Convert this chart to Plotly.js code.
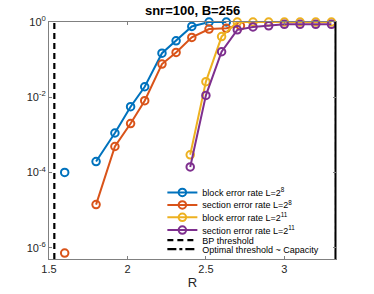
<!DOCTYPE html>
<html>
<head>
<meta charset="utf-8">
<script src="https://cdn.plot.ly/plotly-3.0.1.min.js"></script>
<style>html,body{margin:0;padding:0;background:#fff;}#chart{width:374px;height:294px;}</style>
</head>
<body>
<div id="chart"></div>
<script>
// Data
const R8 = [1.6, 1.8, 1.92, 2.02, 2.11, 2.22, 2.31, 2.41, 2.52, 2.63];
const blockL8 = [1.0e-4, 1.95e-4, 1.12e-3, 5.6e-3, 0.019, 0.148, 0.316, 0.76, 1.0, 1.0];
const R8s = [1.6, 1.8, 1.92, 2.02, 2.11, 2.22, 2.31, 2.41, 2.52, 2.63, 2.72];
const sectionL8 = [7.2e-7, 1.4e-5, 4.9e-4, 2.0e-3, 8.1e-3, 0.076, 0.155, 0.39, 0.65, 0.68, 0.79];
const R11 = [2.4, 2.5, 2.6, 2.7, 2.8, 2.9, 3.0, 3.1, 3.2, 3.3];
const blockL11 = [2.95e-4, 0.026, 0.41, 1.0, 1.0, 1.0, 1.0, 1.0, 1.0, 1.0];
const sectionL11 = [1.4e-4, 0.0112, 0.162, 0.62, 0.74, 0.79, 0.87, 0.87, 0.87, 0.87];
const bpThreshold = 1.534;
const capacity = 0.5 * Math.log2(1 + 100);
const yTickVals = [1e-6, 1e-4, 1e-2, 1];
const yTickText = ['10<sup>-6</sup>', '10<sup>-4</sup>', '10<sup>-2</sup>', '10<sup>0</sup>'];
const xTickVals = [1.5, 2, 2.5, 3];
const xTickText = ['1.5', '2', '2.5', '3'];
const seriesNames = ['block error rate L=2<sup>8</sup>', 'section error rate L=2<sup>8</sup>',
                     'block error rate L=2<sup>11</sup>', 'section error rate L=2<sup>11</sup>',
                     'BP threshold', 'Optimal threshold ~ Capacity'];

const colors = ['#0072BD', '#D95319', '#EDB120', '#7E2F8E'];
const legendIds = ['legend', 'legend2', 'legend3', 'legend4', 'legend5', 'legend6'];
const legendY = [0.281, 0.228, 0.176, 0.122, 0.080, 0.042];

function gapFirst(arr) { return [arr[0], null].concat(arr.slice(1)); }

function series(x, y, i) {
  return {
    x: x, y: y, name: seriesNames[i], legend: legendIds[i], type: 'scatter', mode: 'lines+markers',
    connectgaps: false, cliponaxis: false,
    line: {color: colors[i], width: 2},
    marker: {symbol: 'circle-open', size: 7.5, color: colors[i], line: {width: 2, color: colors[i]}}
  };
}

const traces = [
  series(gapFirst(R8), gapFirst(blockL8), 0),
  series(gapFirst(R8s), gapFirst(sectionL8), 1),
  series(R11, blockL11, 2),
  series(R11, sectionL11, 3),
  {x: [bpThreshold, bpThreshold], y: [10**-6.3, 1], name: seriesNames[4], legend: legendIds[4],
   type: 'scatter', mode: 'lines', line: {color: '#000', width: 2.2, dash: '6px,4px'}},
  {x: [capacity, capacity], y: [10**-6.3, 1], name: seriesNames[5], legend: legendIds[5],
   type: 'scatter', mode: 'lines', line: {color: '#000', width: 2.2, dash: 'dashdot'}},
  {x: [capacity, capacity], y: [10**-6.3, 1], showlegend: false, hoverinfo: 'skip', type: 'scatter', mode: 'lines',
   line: {color: '#000', width: 3}}
];

const axisCommon = {
  showline: true, linecolor: '#808080', linewidth: 1, mirror: 'ticks',
  ticks: 'inside', ticklen: 3, tickcolor: '#808080', showgrid: false, zeroline: false,
  tickfont: {family: 'Liberation Sans, Arial, sans-serif', size: 11, color: '#262626'}
};

const layout = {
  width: 374, height: 294,
  margin: {l: 49, r: 38, t: 22, b: 35},
  paper_bgcolor: '#fff', plot_bgcolor: '#fff',
  font: {family: 'Liberation Sans, Arial, sans-serif', color: '#262626'},
  title: {text: '<b>snr=100, B=256</b>', x: 0.515, xanchor: 'center', y: 0.965, yanchor: 'middle',
          font: {size: 13, color: '#000'}},
  xaxis: Object.assign({}, axisCommon, {
    range: [1.5, capacity], tickvals: xTickVals, ticktext: xTickText,
    title: {text: 'R', font: {size: 13, color: '#262626'}, standoff: 3}
  }),
  yaxis: Object.assign({}, axisCommon, {
    type: 'log', range: [-6.3, 0], tickvals: yTickVals, ticktext: yTickText
  }),
  showlegend: true
};

legendIds.forEach(function (id, i) {
  layout[id] = {x: 0.395, y: legendY[i], xanchor: 'left', yanchor: 'middle',
                bgcolor: 'rgba(255,255,255,0)', borderwidth: 0,
                font: {size: 9, family: 'Liberation Sans, Arial, sans-serif', color: '#000'},
                itemwidth: 30, tracegroupgap: 0};
});

Plotly.newPlot('chart', traces, layout, {staticPlot: true, displayModeBar: false});
</script>
</body>
</html>
